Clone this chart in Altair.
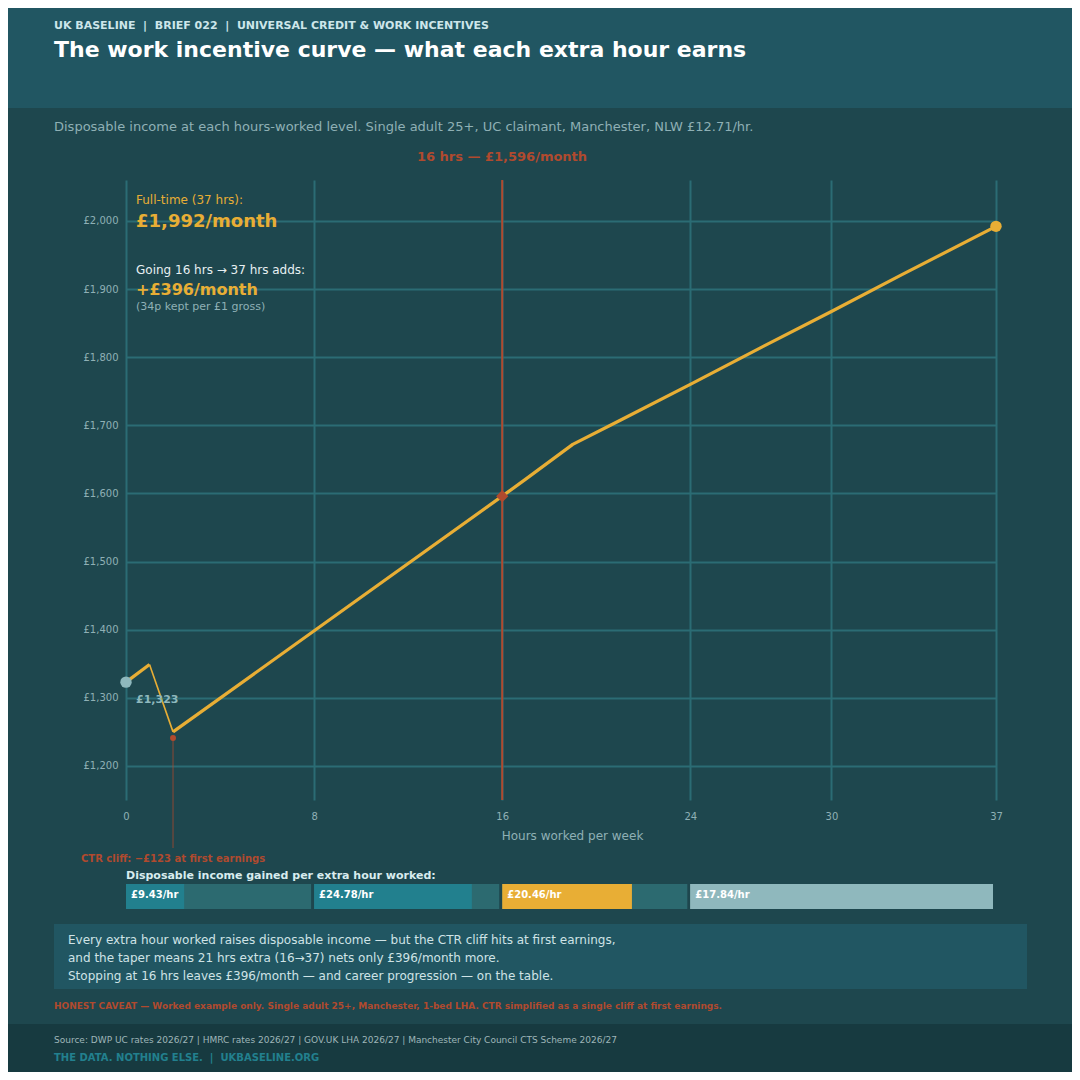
#!/usr/bin/env python3

"""Work incentive curve: disposable income by hours worked (UC claimant)."""

import altair as alt
import pandas as pd

# curve vertices (hours/week -> £/month)
hours = [0, 1, 2, 16, 17, 19, 21, 24, 27, 30, 33, 37]
income = [1323, 1349, 1250, 1596, 1621, 1672, 1707, 1760, 1814, 1867, 1921, 1992]

# marked points
start_pt = {"hours": 0, "income": 1323}
cliff_pt = {"hours": 2, "income": 1241}
mid_pt = {"hours": 16, "income": 1596}
end_pt = {"hours": 37, "income": 1992}

# per-hour gain bands
band_names = ["0-8", "8-16", "16-24", "24-37"]
band_start = [0, 8, 16, 24]
band_end = [8, 16, 24, 37]
band_rate = [9.43, 24.78, 20.46, 17.84]

x_ticks = [0, 8, 16, 24, 30, 37]
y_ticks = [1200, 1300, 1400, 1500, 1600, 1700, 1800, 1900, 2000]

BG = "#1e474e"
HEADER = "#215662"
FOOTER = "#173a40"
GRID = "#2b6c74"
ORANGE = "#e8ae35"
RED = "#b04a2e"
LIGHT = "#8fb8bd"
MUTED = "#8fb0b5"
TEAL = "#22808e"
TRACK = "#2c6a70"
FONT = "DejaVu Sans"
SEP = "\u00a0\u00a0|\u00a0\u00a0"

# plot origin on the page
OX, OY = 126, 180
W, H = 870, 620

ONE = alt.Data(values=[{"k": 1}])


def txt(s, px, py, size, color, weight="normal", align="left"):
    return alt.Chart(ONE).mark_text(
        text=s, x=px - OX, y=py - OY, fontSize=size, color=color,
        fontWeight=weight, font=FONT, align=align, baseline="alphabetic"
    )


def box(px0, py0, px1, py1, color):
    return alt.Chart(ONE).mark_rect(
        x=px0 - OX, x2=px1 - OX, y=py0 - OY, y2=py1 - OY, color=color
    )


x_scale = alt.Scale(domain=[0, 37], nice=False, zero=False)
y_scale = alt.Scale(domain=[1150, 2060], nice=False, zero=False)
x_ax = alt.Axis(
    values=x_ticks, grid=True, gridColor=GRID, gridWidth=2,
    domain=False, ticks=False, tickSize=0, labelColor=MUTED,
    labelFontSize=10, labelFont=FONT, labelPadding=11, labelFlush=False,
    title="Hours worked per week", titleColor=MUTED, titleFontSize=12,
    titleFont=FONT, titleFontWeight="normal", titleX=446, titleY=39,
    titleBaseline="alphabetic",
)
y_ax = alt.Axis(
    values=y_ticks, grid=True, gridColor=GRID, gridWidth=2,
    domain=False, ticks=False, tickSize=0, labelColor=MUTED,
    labelFontSize=10, labelFont=FONT, labelPadding=8, labelFlush=False,
    labelExpr="'£' + format(datum.value, ',')", title="",
)


def X(field):
    return alt.X(field, scale=x_scale, axis=x_ax)


def Y(field):
    return alt.Y(field, scale=y_scale, axis=y_ax)


curve = pd.DataFrame({"hours": hours, "income": income})
curve["piece"] = ["a"] * 2 + ["b"] * (len(hours) - 2)
drop = curve.iloc[1:3]

line = alt.Chart(curve).mark_line(
    color=ORANGE, strokeWidth=3.2, strokeJoin="round"
).encode(x=X("hours:Q"), y=Y("income:Q"), detail="piece:N")

drop_line = alt.Chart(drop).mark_line(
    color=ORANGE, strokeWidth=1.6
).encode(x=X("hours:Q"), y=Y("income:Q"))

mid_rule = alt.Chart(pd.DataFrame([mid_pt])).mark_rule(
    color=RED, strokeWidth=2
).encode(x=X("hours:Q"), y=alt.value(0), y2=alt.value(H))

cliff_rule = alt.Chart(pd.DataFrame([cliff_pt])).mark_rule(
    color=RED, strokeWidth=1, opacity=0.75
).encode(x=X("hours:Q"), y=Y("income:Q"), y2=alt.value(848 - OY))


def dot(pt, **kw):
    return alt.Chart(pd.DataFrame([pt])).mark_point(
        filled=True, opacity=1, strokeWidth=0, **kw
    ).encode(x=X("hours:Q"), y=Y("income:Q"))


start_dot = dot(start_pt, shape="circle", color=LIGHT, size=130)
end_dot = dot(end_pt, shape="circle", color=ORANGE, size=130)
mid_dot = dot(mid_pt, shape="diamond", color=RED, size=150)
cliff_dot = dot(cliff_pt, shape="circle", color=RED, size=35)

# hourly gain strip below the plot
bands = pd.DataFrame({
    "band": band_names, "start": band_start, "end": band_end, "rate": band_rate
})
BAR_Y0, BAR_Y1 = 884 - OY, 909 - OY
track = alt.Chart(bands).mark_rect(y=BAR_Y0, y2=BAR_Y1, x2Offset=-3).encode(
    x=X("start:Q"), x2="end:Q",
    color=alt.condition(alt.datum.band == "24-37", alt.value(LIGHT), alt.value(TRACK)),
)
fill = alt.Chart(bands).transform_calculate(
    fill_end="min(datum.end, datum.start + datum.rate / 29 * (datum.end - datum.start))"
).mark_rect(y=BAR_Y0, y2=BAR_Y1, x2Offset=-3).encode(
    x=X("start:Q"), x2="fill_end:Q",
    color=alt.Color(
        "band:N",
        scale=alt.Scale(domain=band_names, range=[TEAL, TEAL, ORANGE, LIGHT]),
        legend=None,
    ),
)
bar_text = alt.Chart(bands).transform_calculate(
    label="'£' + format(datum.rate, '.2f') + '/hr'"
).mark_text(
    y=898 - OY, dx=5, align="left", baseline="alphabetic", font=FONT,
    fontSize=10, fontWeight="bold", color="#ffffff"
).encode(x=X("start:Q"), text="label:N")

layers = [
    box(0, 0, 1072, 108, HEADER),
    box(54, 924, 1027, 989, HEADER),
    box(0, 1024, 1072, 1072, FOOTER),
    txt("UK BASELINE" + SEP + "BRIEF 022" + SEP + "UNIVERSAL CREDIT & WORK INCENTIVES",
        54, 29, 11, "#cde6ea", "bold"),
    txt("The work incentive curve — what each extra hour earns",
        54, 57, 22, "#ffffff", "bold"),
    txt("Disposable income at each hours-worked level. Single adult 25+, "
        "UC claimant, Manchester, NLW £12.71/hr.", 54, 131, 13, MUTED),
    txt("16 hrs — £1,596/month", 502, 161, 13, RED, "bold", "center"),
    mid_rule,
    line,
    drop_line,
    cliff_rule,
    start_dot,
    end_dot,
    mid_dot,
    cliff_dot,
    txt("Full-time (37 hrs):", 136, 204, 12, ORANGE),
    txt("£1,992/month", 136, 227, 18, ORANGE, "bold"),
    txt("Going 16 hrs → 37 hrs adds:", 136, 274, 12, "#e8f0f2"),
    txt("+£396/month", 136, 295, 16, ORANGE, "bold"),
    txt("(34p kept per £1 gross)", 136, 310, 11, MUTED),
    txt("£1,323", 136, 703, 11, LIGHT, "bold"),
    txt("CTR cliff: −£123 at first earnings", 81, 862, 10, RED, "bold"),
    txt("Disposable income gained per extra hour worked:", 126, 879, 11,
        "#d8ecee", "bold"),
    track,
    fill,
    bar_text,
    txt("Every extra hour worked raises disposable income — but the CTR cliff "
        "hits at first earnings,", 68, 944, 12, "#cfe3e6"),
    txt("and the taper means 21 hrs extra (16→37) nets only £396/month more.",
        68, 962, 12, "#cfe3e6"),
    txt("Stopping at 16 hrs leaves £396/month — and career progression — "
        "on the table.", 68, 980, 12, "#cfe3e6"),
    txt("HONEST CAVEAT — Worked example only. Single adult 25+, Manchester, "
        "1-bed LHA. CTR simplified as a single cliff at first earnings.",
        54, 1009, 9, RED, "bold"),
    txt("Source: DWP UC rates 2026/27 | HMRC rates 2026/27 | GOV.UK LHA 2026/27 "
        "| Manchester City Council CTS Scheme 2026/27", 54, 1043, 9, "#9fb6b9"),
    txt("THE DATA. NOTHING ELSE." + SEP + "UKBASELINE.ORG", 54, 1061, 10, TEAL, "bold"),
]

chart = alt.layer(*layers).resolve_scale(color="independent").properties(
    width=W,
    height=H,
    autosize=alt.AutoSizeParams(type="none"),
    padding={"left": OX - 8, "top": OY - 8,
             "right": 1064 - (OX - 8) - W, "bottom": 1064 - (OY - 8) - H},
    background=BG,
).configure_view(stroke=None)

chart.save("out.html", embed_options={"renderer": "svg", "actions": False})
